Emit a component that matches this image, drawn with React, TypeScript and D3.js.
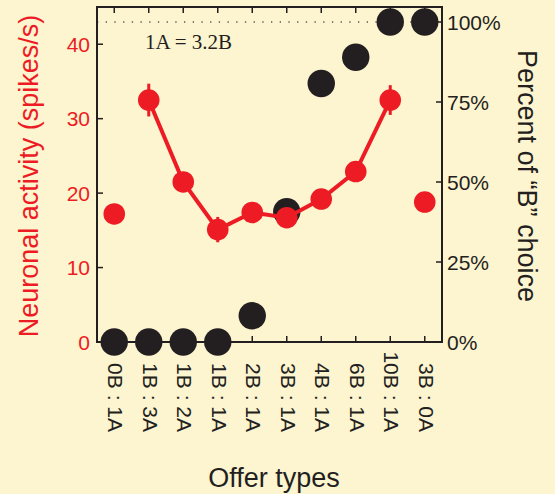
import React from 'react';
import * as d3 from 'd3';

const offerTypes = ["0B : 1A", "1B : 3A", "1B : 2A", "1B : 1A", "2B : 1A", "3B : 1A", "4B : 1A", "6B : 1A", "10B : 1A", "3B : 0A"];
const activity = [17.2, 32.5, 21.5, 15.1, 17.4, 16.7, 19.2, 22.9, 32.5, 18.8];
const activityErr = [0.5, 2.2, 0.8, 1.7, 0.7, 0.7, 0.8, 0.9, 2.0, 0.6];
const choiceB = [0, 0, 0, 0, 8.2, 40.7, 80.8, 89, 100, 100];
const leftTicks = [0, 10, 20, 30, 40];
const rightTicks = [0, 25, 50, 75, 100];

const W = 555, H = 494;
const left = 97, right = 442, top = 7, bottom = 342;
const RED = "#ed1c24";
const DARK = "#231f20";
const BG = "#fdf4d0";

export default function App() {
  const x = d3.scalePoint<string>().domain(offerTypes).range([left, right]).padding(0.5);
  const yL = d3.scaleLinear().domain([0, 45]).range([bottom, top]);
  const yR = d3.scaleLinear().domain([0, 100]).range([bottom, bottom - 320]);

  // line only joins the mixed offers (not the forced-choice ends)
  const inner = activity.map((v, i) => ({ v, i })).filter(d => d.i > 0 && d.i < offerTypes.length - 1);
  const line = d3.line<{ v: number; i: number }>()
    .x(d => x(offerTypes[d.i])!)
    .y(d => yL(d.v));

  const font = "'Liberation Sans', Arial, sans-serif";

  return (
    <div style={{ position: 'absolute', left: 0, top: 0 }}>
      <svg width={W} height={H} style={{ display: 'block' }} fontFamily={font}>
        <rect width={W} height={H} fill={BG} />

        {/* 100% reference */}
        <line x1={left} x2={right} y1={yR(100)} y2={yR(100)} stroke="#555" strokeWidth={1.3} strokeDasharray="1.3 7.4" />

        <text x={145} y={49} fontFamily="'Liberation Serif', 'Times New Roman', serif" fontSize={21} fill={DARK}>1A = 3.2B</text>

        {/* frame */}
        <rect x={left} y={top} width={right - left} height={bottom - top} fill="none" stroke={DARK} strokeWidth={2} />

        {/* x ticks top & bottom */}
        {offerTypes.map(o => (
          <g key={o}>
            <line x1={x(o)} x2={x(o)} y1={bottom} y2={bottom - 6} stroke={DARK} strokeWidth={1.5} />
            <line x1={x(o)} x2={x(o)} y1={top} y2={top + 6} stroke={DARK} strokeWidth={1.5} />
            <text transform={`translate(${x(o)},432) rotate(90)`} dy={6} textAnchor="end" fontSize={21} fill={DARK}>{o}</text>
          </g>
        ))}

        {/* left axis */}
        {leftTicks.map(t => (
          <g key={'l' + t}>
            <line x1={left} x2={left + 6} y1={yL(t)} y2={yL(t)} stroke={DARK} strokeWidth={1.5} />
            <text x={90} y={yL(t)} dy="0.36em" textAnchor="end" fontSize={21} fill={RED}>{t}</text>
          </g>
        ))}

        {/* right axis */}
        {rightTicks.map(t => (
          <g key={'r' + t}>
            <line x1={right} x2={right - 6} y1={yR(t)} y2={yR(t)} stroke={DARK} strokeWidth={1.5} />
            <text x={447} y={yR(t)} dy="0.36em" fontSize={21} fill={DARK}>{t}%</text>
          </g>
        ))}

        {/* choice dots */}
        {choiceB.map((v, i) => (
          <circle key={'c' + i} cx={x(offerTypes[i])} cy={yR(v)} r={13.7} fill={DARK} />
        ))}

        {/* activity */}
        <path d={line(inner) || ''} fill="none" stroke={RED} strokeWidth={4} />
        {activity.map((v, i) => (
          <line key={'e' + i} x1={x(offerTypes[i])} x2={x(offerTypes[i])} y1={yL(v - activityErr[i])} y2={yL(v + activityErr[i])} stroke={RED} strokeWidth={3} />
        ))}
        {activity.map((v, i) => (
          <circle key={'a' + i} cx={x(offerTypes[i])} cy={yL(v)} r={10.8} fill={RED} />
        ))}

        {/* axis titles */}
        <text transform="translate(38,176) rotate(-90)" textAnchor="middle" fontSize={27} fill={RED}>Neuronal activity (spikes/s)</text>
        <text transform="translate(518,176) rotate(90)" textAnchor="middle" fontSize={27} fill={DARK}>Percent of “B” choice</text>
        <text x={274} y={487} textAnchor="middle" fontSize={27} fill={DARK}>Offer types</text>
      </svg>
    </div>
  );
}
